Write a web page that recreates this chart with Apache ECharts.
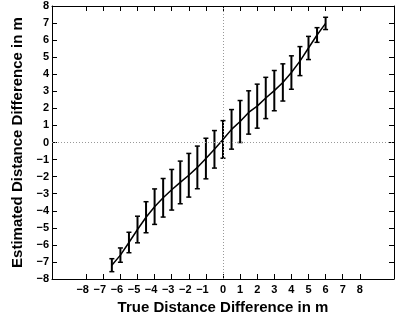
<!DOCTYPE html>
<html><head><meta charset="utf-8">
<script src="https://cdn.jsdelivr.net/npm/echarts@6/dist/echarts.min.js"></script>
<style>html,body{margin:0;padding:0;background:#fff;}#c{width:401px;height:328px;}</style>
</head><body><div id="c"></div>
<script>
const xValues = [-6.5,-6,-5.5,-5,-4.5,-4,-3.5,-3,-2.5,-2,-1.5,-1,-0.5,0,0.5,1,1.5,2,2.5,3,3.5,4,4.5,5,5.5,6];
const meanValues = [-7.19,-6.6,-5.86,-5.1,-4.38,-3.76,-3.24,-2.77,-2.34,-1.92,-1.46,-0.94,-0.4,0.18,0.77,1.23,1.76,2.13,2.61,3.04,3.52,4.1,4.77,5.54,6.3,6.98];
const errValues = [0.38,0.42,0.6,0.78,0.91,1.04,1.13,1.19,1.25,1.28,1.25,1.19,1.1,1.1,1.16,1.23,1.27,1.29,1.21,1.18,1.09,0.98,0.85,0.68,0.43,0.36];
const xTickLabels = [-8,-7,-6,-5,-4,-3,-2,-1,0,1,2,3,4,5,6,7,8];
const yTickLabels = [-8,-7,-6,-5,-4,-3,-2,-1,0,1,2,3,4,5,6,7,8];

const lineData = xValues.map((x,i)=>[x, meanValues[i]]);
const errData = xValues.map((x,i)=>[x, meanValues[i]-errValues[i], meanValues[i]+errValues[i]]);
const FONT = 'Liberation Sans';
const fmt = v => v < 0 ? '{n|\u2212' + Math.abs(v) + '}' : String(v);

const chart = echarts.init(document.getElementById('c'), null, {renderer:'canvas'});
const axisLineStyle = {show:true, onZero:false, lineStyle:{color:'#000', width:1}};
const tickStyle = {show:true, inside:true, length:5, lineStyle:{color:'#000', width:1}};
chart.setOption({
  animation:false,
  backgroundColor:'#fff',
  grid:{left:52, right:7, top:6, bottom:49, containLabel:false},
  xAxis:[{
    type:'value', min:-10, max:10, interval:1, position:'bottom',
    axisLine:axisLineStyle,
    axisTick:Object.assign({customValues:xTickLabels}, tickStyle),
    axisLabel:{customValues:xTickLabels, formatter:fmt, margin:5, color:'#000', fontFamily:FONT, fontWeight:'bold', fontSize:11,
      rich:{n:{fontFamily:FONT, fontWeight:'bold', fontSize:11, color:'#000', padding:[0,7,0,0]}}},
    splitLine:{show:false},
    name:'True Distance Difference in m', nameLocation:'middle', nameGap:19,
    nameTextStyle:{color:'#000', fontFamily:FONT, fontWeight:'bold', fontSize:15}
  },{
    type:'value', min:-10, max:10, interval:1, position:'top',
    axisLine:axisLineStyle,
    axisTick:Object.assign({customValues:xTickLabels}, tickStyle),
    axisLabel:{show:false}, splitLine:{show:false}
  }],
  yAxis:[{
    type:'value', min:-8, max:8, interval:1, position:'left',
    axisLine:axisLineStyle, axisTick:Object.assign({customValues:yTickLabels}, tickStyle),
    axisLabel:{customValues:yTickLabels, formatter:v=>v<0?'\u2212'+Math.abs(v):String(v), margin:3, color:'#000', fontFamily:FONT, fontWeight:'bold', fontSize:11},
    splitLine:{show:false},
    name:'Estimated Distance Difference in m', nameLocation:'middle', nameGap:22,
    nameTextStyle:{color:'#000', fontFamily:FONT, fontWeight:'bold', fontSize:15}
  },{
    type:'value', min:-8, max:8, interval:1, position:'right',
    axisLine:axisLineStyle, axisTick:Object.assign({customValues:yTickLabels}, tickStyle),
    axisLabel:{show:false}, splitLine:{show:false}
  }],
  series:[{
    type:'line', data:lineData, showSymbol:false, smooth:false,
    lineStyle:{color:'#000', width:1.5}, z:3,
    markLine:{silent:true, symbol:'none', label:{show:false},
      lineStyle:{color:'#999', type:[1,2], width:1},
      data:[{xAxis:0},{yAxis:0}]}
  },{
    type:'custom', data:errData, z:4,
    encode:{x:0, y:[1,2]},
    renderItem:function(params, api){
      const x = api.value(0);
      const lo = api.coord([x, api.value(1)]);
      const hi = api.coord([x, api.value(2)]);
      const w = 2.5;
      const st = {stroke:'#000', lineWidth:2};
      return {type:'group', children:[
        {type:'line', shape:{x1:lo[0], y1:lo[1], x2:hi[0], y2:hi[1]}, style:st},
        {type:'line', shape:{x1:lo[0]-w, y1:lo[1], x2:lo[0]+w, y2:lo[1]}, style:{stroke:'#000', lineWidth:1.5}},
        {type:'line', shape:{x1:hi[0]-w, y1:hi[1], x2:hi[0]+w, y2:hi[1]}, style:{stroke:'#000', lineWidth:1.5}}
      ]};
    }
  }]
});
</script></body></html>
